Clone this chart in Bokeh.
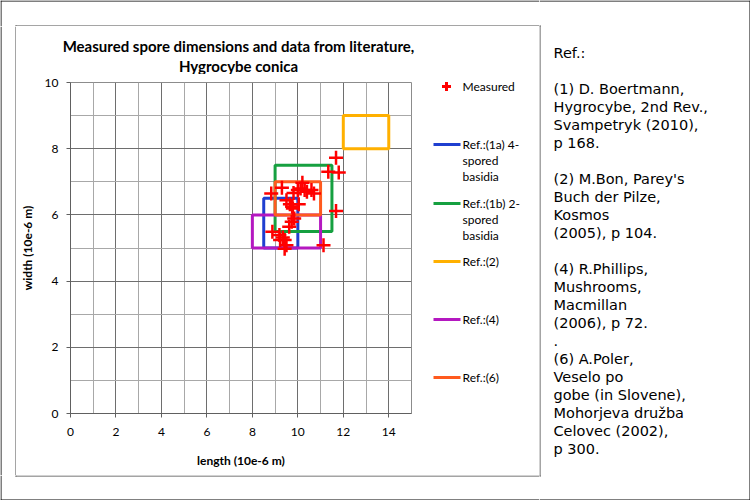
from bokeh.plotting import figure
from bokeh.layouts import row, column
from bokeh.models import FixedTicker, Range1d, ColumnDataSource
from bokeh.core.properties import value
from bokeh.embed import file_html
from bokeh.resources import INLINE

# ---------------- data ----------------
measured_length = [11.68, 11.34, 11.80, 8.83, 9.30, 9.81, 10.12, 10.20, 10.40, 10.71,
                   10.00, 9.50, 9.65, 10.04, 9.78, 11.68, 9.84, 9.73, 9.62, 8.88,
                   9.19, 9.34, 9.42, 9.22, 9.50, 9.42, 11.13, 10.30, 10.60, 9.75]
measured_width = [7.73, 7.30, 7.28, 6.65, 6.82, 6.66, 6.80, 6.97, 6.70, 6.65,
                  6.75, 6.44, 6.32, 6.32, 6.19, 6.12, 5.89, 5.79, 5.64, 5.49,
                  5.39, 5.32, 5.24, 5.24, 5.08, 4.98, 5.08, 6.75, 6.75, 6.25]

ref_labels = [["Ref.:(1a) 4-", "spored", "basidia"],
              ["Ref.:(1b) 2-", "spored", "basidia"],
              ["Ref.:(2)"],
              ["Ref.:(4)"],
              ["Ref.:(6)"]]
ref_len_min = [8.5, 9.0, 12.0, 8.0, 9.0]
ref_len_max = [10.0, 11.5, 14.0, 11.0, 11.0]
ref_wid_min = [5.0, 5.5, 8.0, 5.0, 6.0]
ref_wid_max = [6.5, 7.5, 9.0, 6.0, 7.0]
ref_colors = ["#1f3fd0", "#16a040", "#ffb000", "#b418c0", "#ff5a1e"]

x_ticks = [0, 2, 4, 6, 8, 10, 12, 14]
y_ticks = [0, 2, 4, 6, 8, 10]

title_lines = ["Measured spore dimensions and data from literature,", "Hygrocybe conica"]
x_label = "length (10e-6 m)"
y_label = "width (10e-6 m)"
measured_label = "Measured"

ref_text = ["Ref.:", "",
            "(1) D. Boertmann,", "Hygrocybe, 2nd Rev.,", "Svampetryk (2010),", "p 168.", "",
            "(2) M.Bon, Parey's", "Buch der Pilze,", "Kosmos", "(2005), p 104.", "",
            "(4) R.Phillips,", "Mushrooms,", "Macmillan", "(2006), p 72.", ".",
            "(6) A.Poler,", "Veselo po", "gobe (in Slovene),", "Mohorjeva družba", "Celovec (2002),", "p 300."]

BOX_COL = "#4a4a4a"
OUT_COL = "#000000"

TOP_PAD = 8          # border above the plot frame inside the main figure
TITLE_H = 56 - TOP_PAD
MAIN_H = 393 + TOP_PAD
MAIN_Y0 = 82 - TOP_PAD   # canvas row where the main figure / legend start
TITLE_Y0 = 26            # canvas row where the title strip starts


def canvas_fig(w, h):
    f = figure(width=w, height=h, x_range=Range1d(0, w), y_range=Range1d(h, 0),
               output_backend="svg", toolbar_location=None,
               x_axis_location=None, y_axis_location=None, min_border=0,
               outline_line_color=None, background_fill_color="white",
               border_fill_color="white", frame_align=False)
    f.grid.visible = False
    return f


def seg(f, x0, y0, x1, y1, color, width=1):
    f.segment(x0=[x0], y0=[y0], x1=[x1], y1=[y1], line_color=color, line_width=width)


def txt(f, x, y, t, size, font="Lato", style="normal", align="left"):
    f.text(x=[x], y=[y], text=[t], text_font=value(font), text_font_size=size,
           text_font_style=style, text_align=align, text_baseline="middle", text_color="black")


# ---------------- main plot ----------------
main = figure(width=396, height=MAIN_H, x_range=Range1d(0, 15), y_range=Range1d(0, 10),
              output_backend="svg", toolbar_location=None, frame_align=False,
              min_border_left=52, min_border_right=1, min_border_top=TOP_PAD, min_border_bottom=62)
main.background_fill_color = "white"
main.border_fill_color = "white"
main.outline_line_color = "#8c8c8c"

main.xaxis.ticker = FixedTicker(ticks=x_ticks, minor_ticks=list(range(0, 16)))
main.yaxis.ticker = FixedTicker(ticks=y_ticks, minor_ticks=list(range(0, 11)))
for ax in (main.xaxis[0], main.yaxis[0]):
    ax.major_tick_in = 0
    ax.major_tick_out = 4
    ax.minor_tick_in = 0
    ax.minor_tick_out = 0
    ax.axis_line_color = "#606060"
    ax.major_tick_line_color = "#606060"
    ax.major_label_text_font = "Lato"
    ax.major_label_text_font_size = "12px"
    ax.major_label_text_color = "black"
    ax.axis_label_text_font = "Lato"
    ax.axis_label_text_font_size = "12px"
    ax.axis_label_text_font_style = "bold"
    ax.axis_label_text_color = "black"
main.xaxis.axis_label = x_label
main.yaxis.axis_label = y_label
main.xaxis.major_label_standoff = 10
main.yaxis.major_label_standoff = 8
main.xaxis.axis_label_standoff = 14
main.yaxis.axis_label_standoff = 7

for g in (main.xgrid[0], main.ygrid[0]):
    g.grid_line_color = "#6e6e6e"
    g.minor_grid_line_color = "#a8a8a8"

src = ColumnDataSource(dict(l=ref_len_min, r=ref_len_max, b=ref_wid_min, t=ref_wid_max, c=ref_colors))
main.quad(left="l", right="r", bottom="b", top="t", source=src,
          fill_color=None, line_color="c", line_width=3)
main.scatter(measured_length, measured_width, marker="cross", size=14,
             line_color="#ff0000", line_width=2.5)

# ---------------- title (canvas rows 45 and 65) ----------------
title_fig = canvas_fig(523, TITLE_H)
for i, t in enumerate(title_lines):
    txt(title_fig, 222, 45.5 + 20 * i - TITLE_Y0, t, "15px", style="bold", align="center")

# ---------------- legend (positions given in canvas rows) ----------------
legend_fig = canvas_fig(127, MAIN_H)
legend_fig.scatter(x=[34], y=[86 - MAIN_Y0], marker="cross", size=9, line_color="#ff0000", line_width=3)
txt(legend_fig, 50, 86 - MAIN_Y0, measured_label, "12px")
leg_y = [144, 203, 261, 319, 377]
for lines, col, yy in zip(ref_labels, ref_colors, leg_y):
    yy = yy - MAIN_Y0
    seg(legend_fig, 21, yy, 48, yy, col, 3)
    for j, t in enumerate(lines):
        txt(legend_fig, 50, yy + 16 * j, t, "12px")

# ---------------- frames / borders ----------------
top_fig = canvas_fig(539, 26)
seg(top_fig, 0, 0.5, 539, 0.5, OUT_COL)
seg(top_fig, 0.5, 0, 0.5, 26, OUT_COL)
seg(top_fig, 15, 25.5, 539, 25.5, BOX_COL)
seg(top_fig, 15.5, 25, 15.5, 26, BOX_COL)

left_fig = canvas_fig(16, 449)
seg(left_fig, 0.5, 0, 0.5, 449, OUT_COL)
seg(left_fig, 15.5, 0, 15.5, 449, BOX_COL)

bottom_fig = canvas_fig(539, 25)
seg(bottom_fig, 15, 0.5, 539, 0.5, BOX_COL)
seg(bottom_fig, 15.5, 0, 15.5, 1, BOX_COL)
seg(bottom_fig, 0.5, 0, 0.5, 25, OUT_COL)
seg(bottom_fig, 0, 24.5, 539, 24.5, OUT_COL)

# ---------------- reference text ----------------
text_fig = canvas_fig(211, 500)
seg(text_fig, 0.5, 25, 0.5, 476, BOX_COL)
seg(text_fig, 0, 25.5, 1, 25.5, BOX_COL)
seg(text_fig, 0, 475.5, 1, 475.5, BOX_COL)
seg(text_fig, 210.5, 0, 210.5, 500, OUT_COL)
seg(text_fig, 0, 0.5, 211, 0.5, OUT_COL)
seg(text_fig, 0, 499.5, 211, 499.5, OUT_COL)
for k, t in enumerate(ref_text):
    if t:
        txt(text_fig, 14, 52 + 18 * k, t, "14.5px", font="DejaVu Sans")

col_box = column(title_fig, row(main, legend_fig, spacing=0), spacing=0)
mid = row(left_fig, col_box, spacing=0)
left_part = column(top_fig, mid, bottom_fig, spacing=0)
root = row(left_part, text_fig, spacing=0)

open("out.html", "w").write(file_html(root, INLINE))
